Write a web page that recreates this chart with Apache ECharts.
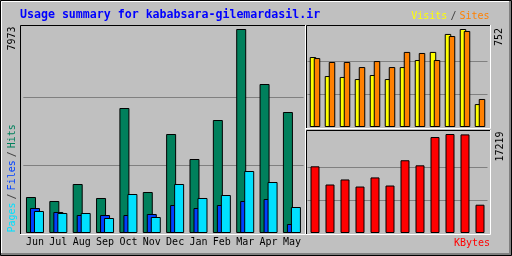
<!DOCTYPE html>
<html><head><meta charset="utf-8">
<script src="https://cdn.jsdelivr.net/npm/echarts@6/dist/echarts.min.js"></script>
<style>html,body{margin:0;padding:0;background:#c0c0c0}#c{width:512px;height:256px}</style>
</head><body><div id="c"></div>
<script>
// ---- data ----
const months = ['Jun','Jul','Aug','Sep','Oct','Nov','Dec','Jan','Feb','Mar','Apr','May'];
const hits   = [1407,1251,1915,1368,4885,1602,3869,2892,4416,7973,5823,4729];
const files  = [977,821,703,703,703,743,1094,977,1094,1251,1329,352];
const pages  = [860,782,782,586,1524,625,1915,1368,1485,2423,1993,1016];
const visits = [537,391,384,368,399,368,460,514,576,714,752,176];
const sites  = [529,499,499,460,506,460,576,568,514,698,737,215];
const kbytes = [11597,8434,9312,8082,9664,8258,12651,11772,16692,17219,17150,4920];
const hitsMax = 7973, visitsMax = 752, kbytesMax = 17219;
const title = 'Usage summary for kababsara-gilemardasil.ir';

// ---- chart ----
const FONT = '"DejaVu Sans Mono", monospace';
const chart = echarts.init(document.getElementById('c'), null, {renderer:'canvas'});
function bar(data, color, idx, bw, gap){
  return {type:'bar', data, xAxisIndex:idx, yAxisIndex:idx, barWidth:bw, barGap:gap, silent:true,
    itemStyle:{color, borderColor:'#000', borderWidth:1}};
}
const maxes = [hitsMax, visitsMax, kbytesMax];
function txt(x, y, text, opts){
  return Object.assign({type:'text', x, y, silent:true, z:100,
    style:Object.assign({text, font:'10px ' + FONT, fill:'#000'}, opts.style||{})}, opts.el||{});
}
const slash = {fill:'#404040', padding:[0,3]};
chart.setOption({
  animation:false,
  backgroundColor:'#c0c0c0',
  grid:[
    {left:23.3, top:29, width:280.3, height:204},
    {left:307.5, top:29, width:180, height:98},
    {left:307.5, top:134, width:180, height:99}
  ],
  xAxis:[0,1,2].map(i=>({type:'category', gridIndex:i, data:months,
    axisLine:{show:false}, axisTick:{show:false},
    axisLabel:{show:i===0, interval:0, fontFamily:FONT, fontSize:10, color:'#000', margin:4}})),
  yAxis:maxes.map((m,i)=>({type:'value', gridIndex:i, min:0, max:m, interval:m/3,
    axisLabel:{show:false}, axisLine:{show:false}, axisTick:{show:false},
    splitLine:{show:true, showMinLine:false, showMaxLine:false, lineStyle:{color:'#808080', width:1}}})),
  series:[
    bar(hits,  '#00805c', 0, 10, '-60%'),
    bar(files, '#0040ff', 0, 10, '-60%'),
    bar(pages, '#00e0ff', 0, 10, '-60%'),
    bar(visits,'#ffff00', 1, 6.5, '-38%'),
    bar(sites, '#ff8000', 1, 6.5, '-38%'),
    bar(kbytes,'#ff0000', 2, 9, '0%')
  ],
  graphic:[
    // outer frame
    {type:'polyline', silent:true, shape:{points:[[510,1],[510,254],[1,254]]}, style:{stroke:'#808080', lineWidth:2, fill:null}},
    {type:'polyline', silent:true, shape:{points:[[1.5,253],[1.5,1.5],[509,1.5]]}, style:{stroke:'#ffffff', lineWidth:1, fill:null}},
    {type:'rect', silent:true, shape:{x:0.5,y:0.5,width:511,height:255}, style:{stroke:'#000', lineWidth:1, fill:null}},
    // main panel
    {type:'polyline', silent:true, shape:{points:[[20.5,234],[20.5,25.5],[305,25.5]]}, style:{stroke:'#000', lineWidth:1, fill:null}},
    {type:'polyline', silent:true, shape:{points:[[20,234.5],[305.5,234.5],[305.5,25]]}, style:{stroke:'#fff', lineWidth:1, fill:null}},
    // top-right panel
    {type:'polyline', silent:true, shape:{points:[[306.5,128],[306.5,25.5],[490,25.5]]}, style:{stroke:'#000', lineWidth:1, fill:null}},
    {type:'polyline', silent:true, shape:{points:[[306,128.5],[490.5,128.5],[490.5,25]]}, style:{stroke:'#fff', lineWidth:1, fill:null}},
    // bottom-right panel
    {type:'polyline', silent:true, shape:{points:[[306.5,234],[306.5,130.5],[490,130.5]]}, style:{stroke:'#000', lineWidth:1, fill:null}},
    {type:'polyline', silent:true, shape:{points:[[306,234.5],[490.5,234.5],[490.5,130]]}, style:{stroke:'#fff', lineWidth:1, fill:null}},
    // texts
    txt(20, 15, title, {style:{font:'bold 11.6px ' + FONT, fill:'#0000ff', align:'left', textAlign:'left', verticalAlign:'middle', textVerticalAlign:'middle'}}),
    txt(489.5, 16.5, '{v|Visits}{s|/}{t|Sites}', {style:{align:'right', textAlign:'right', verticalAlign:'middle', textVerticalAlign:'middle',
      rich:{v:{fill:'#ffff00', font:'10px ' + FONT}, s:Object.assign({font:'10px ' + FONT}, slash), t:{fill:'#ff8000', font:'10px ' + FONT}}}}),
    txt(490, 243, 'KBytes', {style:{fill:'#ff0000', align:'right', textAlign:'right', verticalAlign:'middle', textVerticalAlign:'middle'}}),
    txt(12.5, 26.5, String(hitsMax), {el:{rotation:Math.PI/2}, style:{align:'right', textAlign:'right', verticalAlign:'middle', textVerticalAlign:'middle'}}),
    txt(499.5, 28, String(visitsMax), {el:{rotation:Math.PI/2}, style:{align:'right', textAlign:'right', verticalAlign:'middle', textVerticalAlign:'middle'}}),
    txt(500, 131.5, String(kbytesMax), {el:{rotation:Math.PI/2}, style:{align:'right', textAlign:'right', verticalAlign:'middle', textVerticalAlign:'middle'}}),
    txt(12.5, 232.5, '{p|Pages}{s|/}{f|Files}{s|/}{h|Hits}', {el:{rotation:Math.PI/2}, style:{align:'left', textAlign:'left', verticalAlign:'middle', textVerticalAlign:'middle',
      rich:{p:{fill:'#00e0ff', font:'10px ' + FONT}, s:Object.assign({font:'10px ' + FONT}, slash), f:{fill:'#0040ff', font:'10px ' + FONT}, h:{fill:'#00805c', font:'10px ' + FONT}}}})
  ]
});
</script></body></html>
